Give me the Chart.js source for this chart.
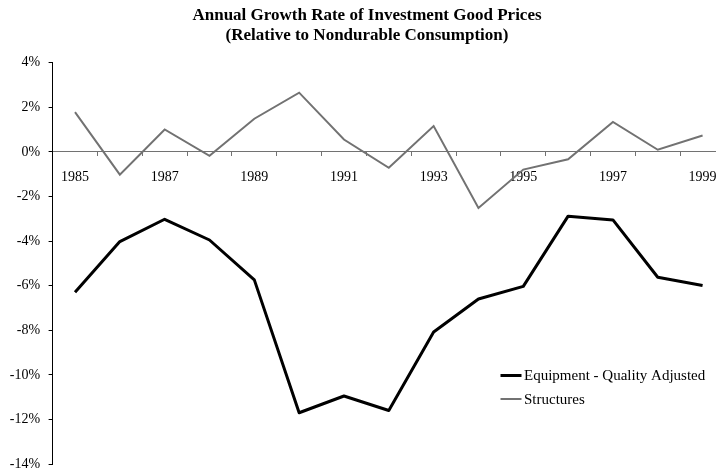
<!DOCTYPE html>
<html><head><meta charset="utf-8">
<script src="https://cdn.jsdelivr.net/npm/chart.js@4/dist/chart.umd.min.js"></script>
<style>
html,body{margin:0;padding:0;background:#fff;overflow:hidden;width:716px;height:472px}
#wrap{position:absolute;left:0;top:0;width:732px;height:472px}
</style></head>
<body><div id="wrap"><canvas id="c" width="732" height="472"></canvas></div>
<script>
const titleLines = ['Annual Growth Rate of Investment Good Prices', '(Relative to Nondurable Consumption)'];
const years = ['1985','1986','1987','1988','1989','1990','1991','1992','1993','1994','1995','1996','1997','1998','1999'];
const equipment = [-6.29,-4.02,-3.02,-3.95,-5.74,-11.70,-10.95,-11.60,-8.08,-6.60,-6.03,-2.88,-3.05,-5.62,-5.99];
const structures = [1.79,-1.02,1.01,-0.17,1.49,2.66,0.56,-0.71,1.16,-2.51,-0.79,-0.33,1.35,0.10,0.74];
const yTicks = [-14,-12,-10,-8,-6,-4,-2,0,2,4];
const seriesNames = ['Equipment - Quality Adjusted', 'Structures'];

const GRAY = '#727272';
const FONT = 'Liberation Serif';

const inLegend = {
  id: 'inLegend',
  afterDraw(chart) {
    const ctx = chart.ctx;
    const x0 = 500.5, x1 = 521.5, tx = 524, ys = [375.5, 399];
    ctx.save();
    ctx.font = '15px "' + FONT + '"';
    ctx.textBaseline = 'middle';
    ctx.textAlign = 'left';
    chart.data.datasets.forEach((ds, i) => {
      ctx.strokeStyle = ds.borderColor;
      ctx.lineWidth = ds.borderWidth;
      ctx.beginPath();
      ctx.moveTo(x0, ys[i]);
      ctx.lineTo(x1, ys[i]);
      ctx.stroke();
      ctx.fillStyle = '#000';
      ctx.fillText(ds.label, tx, ys[i] + 1);
    });
    ctx.restore();
  }
};

new Chart(document.getElementById('c'), {
  type: 'line',
  data: {
    labels: years,
    datasets: [
      { label: seriesNames[0], data: equipment, borderColor: '#000', borderWidth: 3, pointRadius: 0, tension: 0, borderJoinStyle: 'round', fill: false },
      { label: seriesNames[1], data: structures, borderColor: GRAY, borderWidth: 2, pointRadius: 0, tension: 0, borderJoinStyle: 'miter', fill: false }
    ]
  },
  options: {
    responsive: false,
    animation: false,
    devicePixelRatio: 1,
    layout: { padding: { left: 9, right: 7, top: 0, bottom: 8 } },
    plugins: {
      legend: { display: false },
      tooltip: { enabled: false },
      title: {
        display: true,
        text: titleLines,
        color: '#000',
        font: { family: FONT, size: 17, weight: 'bold', lineHeight: 1.2 },
        padding: { top: 5, bottom: 17 }
      }
    },
    scales: {
      x: {
        type: 'category',
        position: { y: 0 },
        offset: true,
        grid: { offset: true, drawOnChartArea: false, drawTicks: true, tickLength: 4, color: GRAY, lineWidth: 1 },
        border: { display: true, color: GRAY, width: 1 },
        ticks: {
          autoSkip: false, maxRotation: 0, minRotation: 0, padding: 13,
          color: '#000', font: { family: FONT, size: 14 },
          callback: function(v, i) { return i % 2 === 0 ? this.getLabelForValue(v) : ''; }
        }
      },
      y: {
        min: -14, max: 4,
        afterBuildTicks: (s) => { s.ticks = yTicks.map(v => ({ value: v })); },
        afterFit: (s) => { s.width = 43.6; s.paddingBottom = 0; s.paddingTop = 0; },
        grid: { drawOnChartArea: false, drawTicks: true, tickLength: 4, color: '#000', lineWidth: 1 },
        border: { display: true, color: '#000', width: 1 },
        ticks: {
          padding: 8.5, color: '#000', font: { family: FONT, size: 14 },
          callback: (v) => v + '%'
        }
      }
    }
  },
  plugins: [inLegend]
});
</script>
</body></html>
